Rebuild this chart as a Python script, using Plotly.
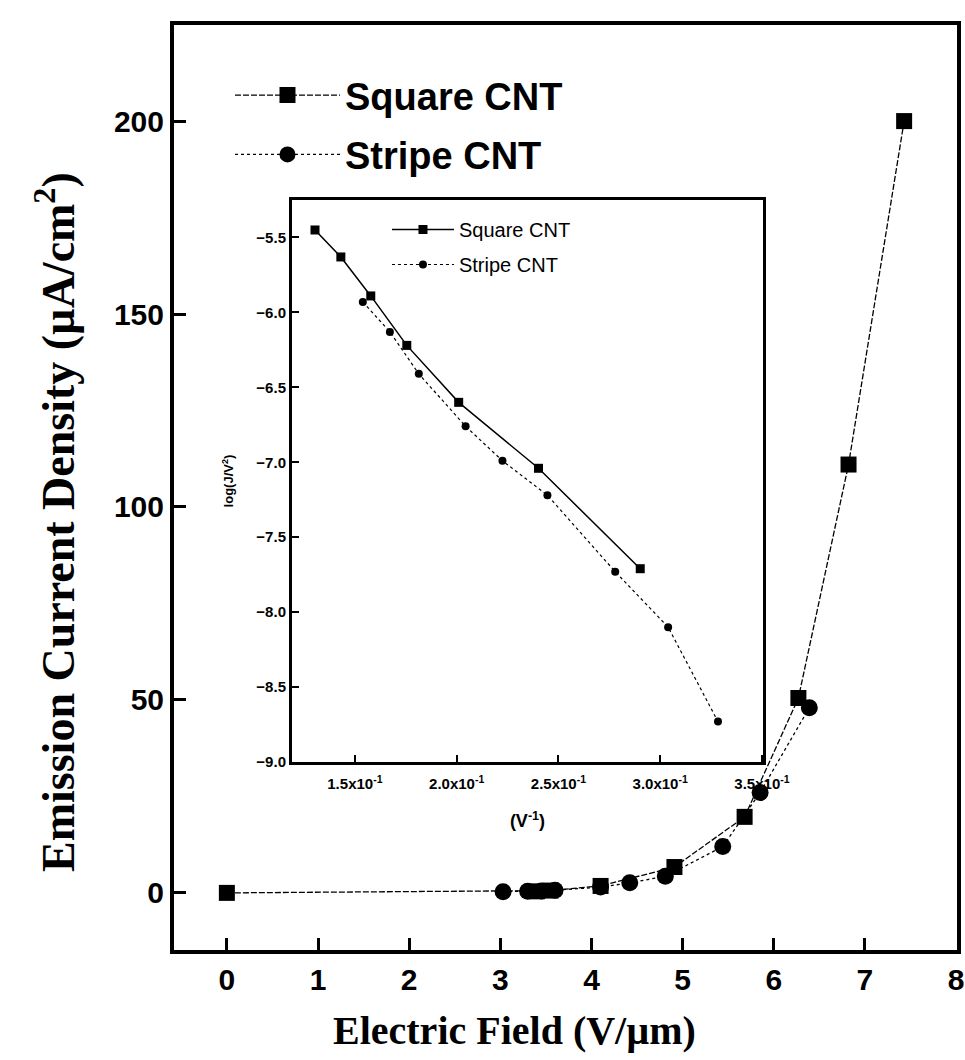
import plotly.graph_objects as go

# ---- main plot data (Electric field V/um vs emission current density uA/cm2)
main_sq_x = [0, 3.4, 3.55, 4.1, 4.91, 5.68, 6.27, 6.82, 7.43]
main_sq_y = [0, 0.4, 0.6, 1.8, 6.7, 19.7, 50.5, 111, 200]
main_st_x = [3.03, 3.3, 3.45, 3.6, 4.1, 4.42, 4.81, 5.44, 5.85, 6.39]
main_st_y = [0.3, 0.4, 0.5, 0.7, 1.5, 2.6, 4.3, 12.0, 26.0, 48.0]

# ---- inset (F-N plot) data
inset_sq_x = [0.1304, 0.1431, 0.1578, 0.1755, 0.2010, 0.2402, 0.2902]
inset_sq_y = [-5.45, -5.63, -5.89, -6.22, -6.60, -7.04, -7.71]
inset_st_x = [0.1539, 0.1672, 0.1814, 0.2044, 0.2225, 0.2446, 0.2779, 0.3039, 0.3284]
inset_st_y = [-5.93, -6.13, -6.41, -6.76, -6.99, -7.22, -7.73, -8.10, -8.73]

main_xticks = [0, 1, 2, 3, 4, 5, 6, 7, 8]
main_yticks = [0, 50, 100, 150, 200]
inset_xticks = [0.15, 0.20, 0.25, 0.30, 0.35]
inset_xticktext = ["1.5x10<sup>-1</sup>", "2.0x10<sup>-1</sup>", "2.5x10<sup>-1</sup>",
                   "3.0x10<sup>-1</sup>", "3.5x10<sup>-1</sup>"]
inset_yticks = [-5.5, -6.0, -6.5, -7.0, -7.5, -8.0, -8.5, -9.0]

x_title = "Electric Field (V/µm)"
y_title = "Emission Current Density (µA/cm<sup>2</sup>)"

BLACK = "black"
SANS = "Liberation Sans"
SERIF = "Liberation Serif"

fig = go.Figure()

fig.add_trace(go.Scatter(
    x=main_sq_x, y=main_sq_y, mode="lines+markers", name="Square CNT",
    line=dict(color=BLACK, width=1.3, dash="6px,2px"),
    marker=dict(symbol="square", size=16, color=BLACK),
    legend="legend", legendgroup="a", xaxis="x", yaxis="y"))
fig.add_trace(go.Scatter(
    x=main_st_x, y=main_st_y, mode="lines+markers", name="Stripe CNT",
    line=dict(color=BLACK, width=1.3, dash="dot"),
    marker=dict(symbol="circle", size=17, color=BLACK),
    legend="legend", legendgroup="b", xaxis="x", yaxis="y"))

fig.add_trace(go.Scatter(
    x=inset_sq_x, y=inset_sq_y, mode="lines+markers", name="Square CNT",
    line=dict(color=BLACK, width=1.5),
    marker=dict(symbol="square", size=9, color=BLACK),
    legend="legend2", legendgroup="c", xaxis="x2", yaxis="y2"))
fig.add_trace(go.Scatter(
    x=inset_st_x, y=inset_st_y, mode="lines+markers", name="Stripe CNT",
    line=dict(color=BLACK, width=1.2, dash="dot"),
    marker=dict(symbol="circle", size=8, color=BLACK),
    legend="legend2", legendgroup="d", xaxis="x2", yaxis="y2"))

fig.update_layout(
    width=965, height=1060,
    margin=dict(l=174, r=8, t=25, b=110, autoexpand=False),
    paper_bgcolor="white", plot_bgcolor="white",
    showlegend=True,
    xaxis=dict(
        domain=[0, 1], range=[-0.58, 8.01], anchor="y", automargin=False,
        tickvals=main_xticks, ticks="inside", ticklen=12, tickwidth=3, tickcolor=BLACK,
        showline=True, linewidth=4, linecolor=BLACK, mirror=True,
        showgrid=False, zeroline=False,
        tickfont=dict(family=SANS, size=30, color=BLACK, weight="bold"),
    ),
    yaxis=dict(
        domain=[0, 1], range=[-14.8, 224.9], anchor="x", automargin=False,
        tickvals=main_yticks, ticks="inside", ticklen=12, tickwidth=3, tickcolor=BLACK,
        showline=True, linewidth=4, linecolor=BLACK, mirror=True,
        showgrid=False, zeroline=False,
        tickfont=dict(family=SANS, size=30, color=BLACK, weight="bold"),
    ),
    xaxis2=dict(
        domain=[0.1507, 0.7522], range=[0.1191, 0.3505], anchor="y2", automargin=False,
        tickvals=inset_xticks, ticktext=inset_xticktext,
        ticks="inside", ticklen=7, tickwidth=2, tickcolor=BLACK,
        ticklabelstandoff=6,
        showline=True, linewidth=3, linecolor=BLACK, mirror=True,
        showgrid=False, zeroline=False,
        tickfont=dict(family=SANS, size=15, color=BLACK, weight="bold"),
        title=dict(text="(V<sup>-1</sup>)", standoff=24,
                   font=dict(family=SANS, size=18, color=BLACK, weight="bold")),
    ),
    yaxis2=dict(
        domain=[0.2032, 0.8108], range=[-9.0, -5.25], anchor="x2", automargin=False,
        tickvals=inset_yticks, tickformat=".1f",
        ticks="inside", ticklen=7, tickwidth=2, tickcolor=BLACK,
        showline=True, linewidth=3, linecolor=BLACK, mirror=True,
        showgrid=False, zeroline=False,
        tickfont=dict(family=SANS, size=15, color=BLACK, weight="bold"),
        title=dict(text="log(J/V<sup>2</sup>)", standoff=20,
                   font=dict(family=SANS, size=13, color=BLACK, weight="bold")),
    ),
    legend=dict(
        x=0.0715, y=0.958, xanchor="left", yanchor="top",
        bgcolor="rgba(0,0,0,0)", borderwidth=0,
        font=dict(family=SANS, size=38, color=BLACK, weight="bold"),
        itemwidth=105, tracegroupgap=7,
    ),
    legend2=dict(
        x=0.272, y=0.80, xanchor="left", yanchor="top",
        bgcolor="rgba(0,0,0,0)", borderwidth=0,
        font=dict(family=SANS, size=20, color=BLACK),
        itemwidth=62, tracegroupgap=6,
    ),
    annotations=[
        dict(text=x_title, xref="paper", yref="paper", x=0.4355, y=-0.0865,
             xanchor="center", yanchor="middle", showarrow=False,
             font=dict(family=SERIF, size=40, color=BLACK, weight="bold")),
        dict(text=y_title, xref="paper", yref="paper", x=-0.152, y=0.4627,
             xanchor="center", yanchor="middle", showarrow=False, textangle=-90,
             font=dict(family=SERIF, size=46, color=BLACK, weight="bold")),
    ],
)

fig.write_html("out.html")
